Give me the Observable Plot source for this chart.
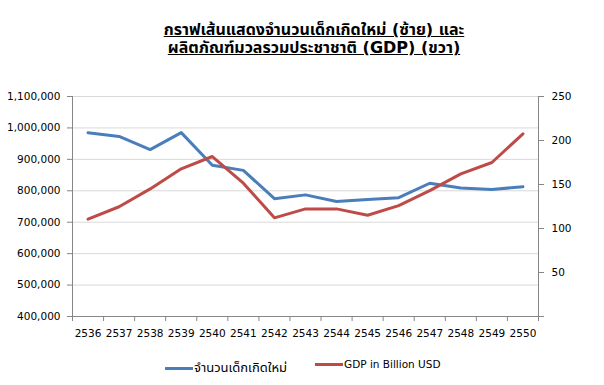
<!DOCTYPE html>
<html><head><meta charset="utf-8">
<script src="https://cdn.jsdelivr.net/npm/d3@7"></script>
<script src="https://cdn.jsdelivr.net/npm/@observablehq/plot@0.6"></script>
<style>
body{margin:0;background:#fff;font-family:Tahoma,"DejaVu Sans","Noto Sans Thai",sans-serif;}
#wrap{width:604px;height:385px;position:relative;overflow:hidden;}
#title{height:70px;box-sizing:border-box;padding-top:21px;padding-left:24px;text-align:center;font-weight:bold;font-size:16px;line-height:18px;color:#000;}
#title span{text-decoration:underline;}
#legend{height:35px;position:relative;font-size:10.5px;color:#000;}
.li{position:absolute;top:8px;display:flex;align-items:center;white-space:nowrap;}
.sw{display:inline-block;width:28px;height:3px;margin-right:1px;}
.th{font-size:13px;}
</style></head>
<body><div id="wrap">
<div id="title"><span>กราฟเส้นแสดงจำนวนเด็กเกิดใหม่ (ซ้าย) และ</span><br><span>ผลิตภัณฑ์มวลรวมประชาชาติ (GDP) (ขวา)</span></div>
<div id="chart"></div>
<div id="legend"></div>
</div>
<script>
const years = [2536, 2537, 2538, 2539, 2540, 2541, 2542, 2543, 2544, 2545, 2546, 2547, 2548, 2549, 2550];
const births = [985000, 973000, 931000, 985000, 881000, 865000, 775000, 787000, 766000, 772000, 778000, 824000, 809000, 804000, 813000];
const gdp = [110.6, 124.7, 145, 167.8, 181.8, 151.5, 112.1, 122.3, 122.3, 115, 126, 143, 162, 175, 207.6];
const leftTicks = [400000, 500000, 600000, 700000, 800000, 900000, 1000000, 1100000];
const rightTicks = [0, 50, 100, 150, 200, 250];
const seriesNames = ["จำนวนเด็กเกิดใหม่", "GDP in Billion USD"];
const colors = ["#4A7EBB", "#BE4B48"];

const leftDomain = [400000, 1100000];
const rightDomain = [0, 250];
const toLeft = d3.scaleLinear().domain(rightDomain).range(leftDomain);

const rowsB = years.map((y, i) => ({year: y, v: births[i]}));
const rowsG = years.map((y, i) => ({year: y, v: toLeft(gdp[i])}));
const bounds = years.map(y => y - 0.5).concat([years[years.length - 1] + 0.5]);
const axisColor = "#868686";

const plot = Plot.plot({
  width: 604,
  height: 280,
  marginTop: 26,
  marginBottom: 34,
  marginLeft: 72,
  marginRight: 66,
  style: {fontFamily: 'Tahoma,"DejaVu Sans",sans-serif', fontSize: "10.5px", color: "#000", background: "#fff"},
  x: {domain: [bounds[0], bounds[bounds.length - 1]]},
  y: {domain: leftDomain},
  marks: [
    Plot.gridY(leftTicks.slice(1), {stroke: "#D9D9D9", strokeOpacity: 1}),
    Plot.ruleY([leftDomain[0]], {stroke: axisColor}),
    Plot.ruleX([bounds[0]], {stroke: axisColor}),
    Plot.ruleX([bounds[bounds.length - 1]], {stroke: axisColor}),
    Plot.axisY(leftTicks, {anchor: "left", tickSize: 5, tickPadding: 7, stroke: axisColor, fill: "#000", tickFormat: d3.format(","), label: null}),
    Plot.axisY(rightTicks.map(toLeft), {anchor: "right", tickSize: 5, tickPadding: 8, stroke: axisColor, fill: "#000", tickFormat: d => { const g = Math.round(toLeft.invert(d)); return g === 0 ? "" : String(g); }, label: null}),
    Plot.axisX(bounds, {anchor: "bottom", tickSize: 5, stroke: axisColor, tickFormat: () => "", label: null}),
    Plot.axisX(years, {anchor: "bottom", tickSize: 0, tickPadding: 13, fill: "#000", tickFormat: d => String(d), label: null}),
    Plot.line(rowsB, {x: "year", y: "v", stroke: colors[0], strokeWidth: 3, strokeLinejoin: "round", strokeLinecap: "round"}),
    Plot.line(rowsG, {x: "year", y: "v", stroke: colors[1], strokeWidth: 3, strokeLinejoin: "round", strokeLinecap: "round"})
  ]
});
document.getElementById("chart").appendChild(plot);

const legend = document.getElementById("legend");
const lefts = [165, 315];
seriesNames.forEach((n, i) => {
  const d = document.createElement("div");
  d.className = "li";
  d.style.left = lefts[i] + "px";
  d.innerHTML = `<span class="sw" style="background:${colors[i]}"></span><span class="${i === 0 ? "th" : ""}">${n}</span>`;
  legend.appendChild(d);
});
</script>
</body></html>
